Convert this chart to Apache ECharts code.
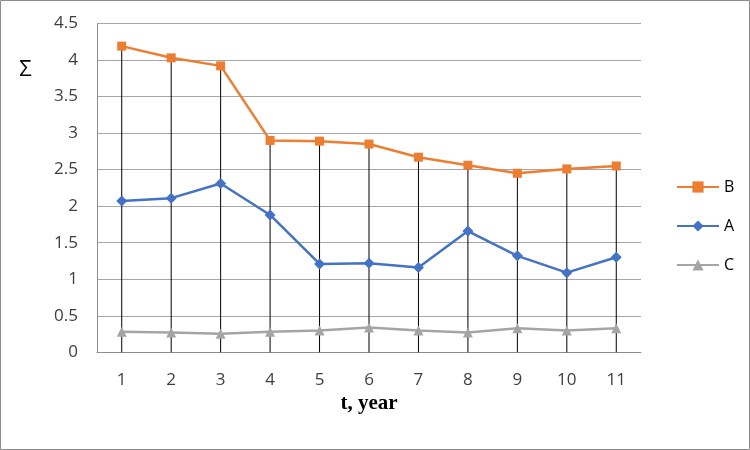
<!DOCTYPE html>
<html>
<head>
<meta charset="utf-8">
<script src="https://cdn.jsdelivr.net/npm/echarts@6/dist/echarts.min.js"></script>
<style>html,body{margin:0;padding:0;background:#fff}#c{width:750px;height:450px}</style>
</head>
<body>
<div id="c"></div>
<script>
const categories = ['1','2','3','4','5','6','7','8','9','10','11'];
const seriesB = [4.19, 4.03, 3.92, 2.90, 2.89, 2.85, 2.67, 2.56, 2.45, 2.51, 2.55];
const seriesA = [2.07, 2.11, 2.31, 1.88, 1.21, 1.22, 1.16, 1.66, 1.32, 1.09, 1.30];
const seriesC = [0.28, 0.27, 0.255, 0.28, 0.30, 0.34, 0.30, 0.27, 0.33, 0.30, 0.33];
const yTicks = [0, 0.5, 1, 1.5, 2, 2.5, 3, 3.5, 4, 4.5];

const chart = echarts.init(document.getElementById('c'));
const labelFont = { color: '#404040', fontSize: 17, fontFamily: 'Open Sans, Noto Sans, sans-serif' };
chart.setOption({
  animation: false,
  backgroundColor: '#fff',
  graphic: [
    { type: 'rect', shape: { x: 0.5, y: 0.5, width: 749, height: 449 }, style: { fill: 'none', stroke: '#8c8c8c', lineWidth: 1 }, silent: true },
    { type: 'text', x: 25.5, y: 70, style: { text: 'Σ', fontSize: 22, fill: '#000', align: 'center', verticalAlign: 'middle', fontFamily: 'Open Sans, Noto Sans, sans-serif' } }
  ],
  grid: { left: 97, right: 109, top: 23.5, bottom: 97.7 },
  legend: {
    orient: 'vertical', left: 671, top: 174,
    itemWidth: 42, itemHeight: 14, itemGap: 23,
    data: ['B', 'A', 'C'],
    textStyle: { color: '#000', fontSize: 16, fontFamily: 'Open Sans, Noto Sans, sans-serif' }
  },
  xAxis: {
    type: 'category', data: categories, boundaryGap: true,
    axisLine: { lineStyle: { color: '#8c8c8c', width: 1 } },
    axisTick: { show: false },
    axisLabel: Object.assign({ margin: 19 }, labelFont),
    name: 't, year', nameLocation: 'middle', nameGap: 40,
    nameTextStyle: { fontFamily: 'Liberation Serif, Times New Roman, serif', fontWeight: 'bold', fontSize: 21, color: '#000' }
  },
  yAxis: {
    type: 'value', min: 0, max: 4.5, interval: 0.5,
    axisLine: { show: true, lineStyle: { color: '#8c8c8c', width: 1 } },
    axisTick: { show: false },
    splitLine: { lineStyle: { color: '#a6a6a6', width: 1 } },
    axisLabel: Object.assign({ margin: 19, formatter: v => String(yTicks.find(t => Math.abs(t - v) < 1e-9) ?? v) }, labelFont)
  },
  series: [
    { name: 'drop', type: 'bar', data: seriesB, barWidth: 1, itemStyle: { color: '#000' }, z: 1, silent: true },
    { name: 'B', type: 'line', data: seriesB, symbol: 'rect', symbolSize: 9, lineStyle: { color: '#ED7D31', width: 2.5 }, itemStyle: { color: '#ED7D31' }, z: 5 },
    { name: 'A', type: 'line', data: seriesA, symbol: 'diamond', symbolSize: 11, lineStyle: { color: '#4472C4', width: 2.5 }, itemStyle: { color: '#4472C4' }, z: 4 },
    { name: 'C', type: 'line', data: seriesC, symbol: 'triangle', symbolSize: 10, lineStyle: { color: '#A5A5A5', width: 2.5 }, itemStyle: { color: '#A5A5A5' }, z: 3 }
  ]
});
</script>
</body>
</html>
